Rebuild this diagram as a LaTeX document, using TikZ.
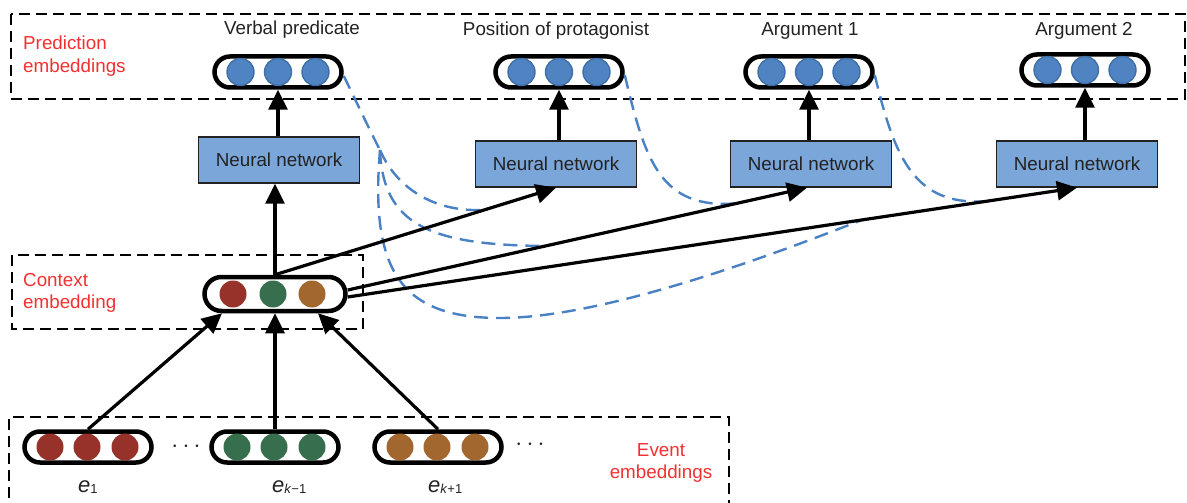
\documentclass[tikz,border=0pt]{standalone}
\usepackage{fontspec}
\setmainfont{Liberation Sans}
\usetikzlibrary{arrows.meta,calc}
\definecolor{cblue}{HTML}{5083C2}
\definecolor{cblueD}{HTML}{3F6FA6}
\definecolor{cnn}{HTML}{7BA6D9}
\definecolor{cred}{HTML}{F2302F}
\definecolor{cdash}{HTML}{4A80C4}
\definecolor{ctext}{HTML}{222222}
\definecolor{cdred}{HTML}{97322A}
\definecolor{cgreen}{HTML}{376E4E}
\definecolor{cbrown}{HTML}{A2672F}
\begin{document}
\begin{tikzpicture}[x=1pt,y=-1pt,
  pill/.style={draw=black, fill=white, line width=4.5pt, rounded corners=15.5pt, minimum width=127pt, minimum height=31pt, inner sep=0pt},
  dotb/.style={circle, minimum size=27pt, inner sep=0pt},
  bdot/.style={dotb, fill=cblue, draw=cblueD, line width=1.4pt},
  rdot/.style={dotb, fill=cdred},
  gdot/.style={dotb, fill=cgreen},
  odot/.style={dotb, fill=cbrown},
  nn/.style={draw=ctext, line width=1.4pt, fill=cnn, minimum width=161pt, minimum height=46pt, inner sep=0pt, font=\fontsize{18.8}{22}\selectfont, text=ctext},
  arr/.style={line width=3.2pt, -{Triangle[length=20pt,width=19pt]}},
  dbox/.style={draw=black, dash pattern=on 11pt off 6pt, line width=2.4pt},
  bdash/.style={draw=cdash, dash pattern=on 14pt off 8pt, line width=2.4pt},
  lbl/.style={font=\fontsize{18.8}{22}\selectfont, text=ctext, inner sep=0pt},
  redlbl/.style={font=\fontsize{18.8}{22.5}\selectfont, text=cred, inner sep=0pt},
  elbl/.style={text=ctext, inner sep=0pt},
  dots/.style={font=\fontsize{26}{26}\selectfont, text=ctext, inner sep=0pt}
]
\useasboundingbox (0,0) rectangle (1187,503);

% dashed group boxes
\draw[dbox] (11,14) rectangle (1185,99);
\draw[dbox] (12,255) rectangle (363,329);
\draw[dbox] (9,515) -- (9,417) -- (729,417) -- (729,515);

% group labels
\node[redlbl, anchor=north west, align=left] (lpred) at (23,36) {Prediction\\embeddings};
\node[redlbl, anchor=north west, align=left] (lctx) at (23,273) {Context\\embedding};
\node[redlbl, anchor=north, align=center] (levt) at (661,443) {Event\\embeddings};

% top labels
\node[lbl] (tvp) at (292,30) {Verbal predicate};
\node[lbl] (tpp) at (556,31) {Position of protagonist};
\node[lbl] (ta1) at (810,31) {Argument 1};
\node[lbl] (ta2) at (1084,31) {Argument 2};

% neural networks
\node[nn] (nn1) at (279,160) {Neural network};
\node[nn] (nn2) at (556,164) {Neural network};
\node[nn] (nn3) at (811,164) {Neural network};
\node[nn] (nn4) at (1077,164) {Neural network};

\path (278,72) coordinate (vpc) (559,72) coordinate (ppc) (809,72) coordinate (a1c) (1085,70) coordinate (a2c);

\node[pill, minimum width=141pt, minimum height=34pt, rounded corners=17pt] (ctx) at (275,294) {};
\coordinate (c3) at ([yshift=4pt]ctx.east);
\coordinate (c4) at ([yshift=-3pt]ctx.east);
\coordinate (n3) at ([xshift=-4pt]nn3.south);

% junction points of the dashed feedback curves
\coordinate (j2) at ($(ctx.north)!0.747!(nn2.south)$);
\coordinate (j3a) at ($(c3)!0.43!(n3)$);
\coordinate (j4a) at ($(c4)!0.705!(nn4.south)$);
\coordinate (j3b) at ($(c3)!0.848!(n3)$);
\coordinate (j4b) at ($(c4)!0.874!(nn4.south)$);
\coordinate (kink) at (380,150);

% prediction pills
\node[pill] (vp) at (vpc) {};
\node[pill] (pp) at (ppc) {};
\node[pill] (a1) at (a1c) {};
\node[pill] (a2) at (a2c) {};

% dashed feedback curves
\draw[bdash] ([yshift=-4pt]vp.east) .. controls (358,105) and (372,135) .. (kink);
\draw[bdash] (kink) .. controls (398,192) and (440,213) .. (j2);
\draw[bdash] (kink) .. controls (383,225) and (430,245) .. (j3a);
\draw[bdash] (kink) .. controls (370,270) and (400,318) .. (500,318) .. controls (600,318) and (760,260) .. (j4a);
\draw[bdash] ([yshift=-3pt]pp.east) .. controls (645,160) and (660,210) .. (j3b);
\draw[bdash] ([yshift=-3pt]a1.east) .. controls (895,160) and (915,205) .. (j4b);

\foreach \p in {vp,pp,a1,a2}{
  \foreach \d [count=\i] in {-37.5,0,37.5}
    \node[bdot] (\p\i) at ([xshift=\d pt]\p.center) {};
}

% context circles
\node[rdot] (ctx1) at ([xshift=-42pt]ctx.center) {};
\node[gdot] (ctx2) at ([xshift=-2pt]ctx.center) {};
\node[odot] (ctx3) at ([xshift=37pt]ctx.center) {};

% event pills
\node[pill] (e1) at (88,447) {};
\node[pill] (ekm) at (275,447) {};
\node[pill] (ekp) at (438,447) {};
\foreach \d [count=\i] in {-38,-1,37}{
  \node[rdot] (e1\i) at ([xshift=\d pt]e1.center) {};
  \node[gdot] (ekm\i) at ([xshift=\d pt]ekm.center) {};
  \node[odot] (ekp\i) at ([xshift=\d pt]ekp.center) {};
}
\node[dots] (dots1) at (186,447) {$\cdots$};
\node[dots] (dots2) at (530,445) {$\cdots$};

% event labels
\node[elbl, anchor=base west] (le1) at (78,492) {{\fontsize{22}{22}\selectfont\itshape e}\raisebox{-1.5pt}{\fontsize{13}{13}\selectfont 1}};
\node[elbl, anchor=base west] (lekm) at (272,492) {{\fontsize{22}{22}\selectfont\itshape e}\raisebox{-1.5pt}{\fontsize{13}{13}\selectfont\textit{k}−1}};
\node[elbl, anchor=base west] (lekp) at (428,492) {{\fontsize{22}{22}\selectfont\itshape e}\raisebox{-1.5pt}{\fontsize{13}{13}\selectfont\textit{k}+1}};

% arrows
\draw[arr] (vp.south |- nn1.north) -- (vp.south);
\draw[arr] (pp.south |- nn2.north) -- (pp.south);
\draw[arr] (a1.south |- nn3.north) -- (a1.south);
\draw[arr] (a2.south |- nn4.north) -- (a2.south);

\draw[arr] (ctx.north) -- (ctx.north |- nn1.south);
\draw[arr] (ctx.north) -- (nn2.south);
\draw[arr] (c3) -- (n3);
\draw[arr] (c4) -- (nn4.south);

\draw[arr] (e1.north) -- ([xshift=-53pt]ctx.south);
\draw[arr] (ekm.north) -- (ctx.south);
\draw[arr] (ekp.north) -- ([xshift=43pt]ctx.south);
\end{tikzpicture}
\end{document}
